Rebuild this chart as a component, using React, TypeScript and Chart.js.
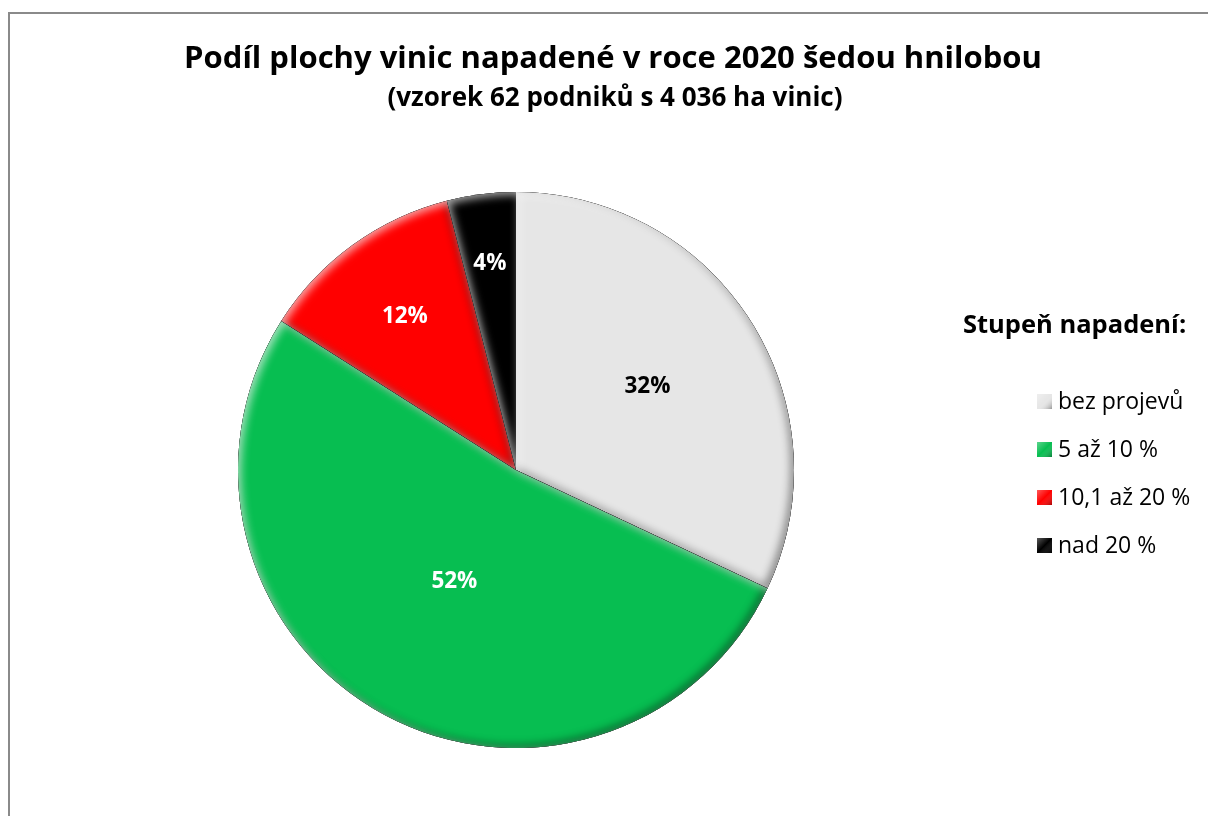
import React, { useEffect, useRef } from "react";
import { Chart, registerables } from "chart.js";

Chart.register(...registerables);

const TITLE = "Podíl plochy vinic napadené v roce 2020 šedou hnilobou";
const SUBTITLE = "(vzorek 62 podniků s 4 036 ha vinic)";
const LEGEND_TITLE = "Stupeň napadení:";
const categories = ["bez projevů", "5 až 10 %", "10,1 až 20 %", "nad 20 %"];
const shares = [32, 52, 12, 4];
const sliceColors = ["#E6E6E6", "#07BE51", "#FF0000", "#000000"];
const labelColors = ["#000000", "#FFFFFF", "#FFFFFF", "#FFFFFF"];
const labelRadius = [0.56, 0.46, 0.68, 0.75];

const FONT = "'Open Sans', 'Noto Sans', sans-serif";

const bevelPlugin = {
  id: "bevel",
  afterDatasetsDraw(chart: any) {
    const ctx: CanvasRenderingContext2D = chart.ctx;
    const meta = chart.getDatasetMeta(0);
    meta.data.forEach((arc: any) => {
      const { x, y, startAngle, endAngle, outerRadius } = arc.getProps(
        ["x", "y", "startAngle", "endAngle", "outerRadius"],
        true
      );
      const slicePath = () => {
        ctx.moveTo(x, y);
        ctx.arc(x, y, outerRadius, startAngle, endAngle);
        ctx.closePath();
      };
      const inner = (color: string, ox: number, oy: number, blur: number) => {
        ctx.save();
        ctx.beginPath();
        slicePath();
        ctx.clip();
        ctx.beginPath();
        ctx.rect(x - outerRadius * 3, y - outerRadius * 3, outerRadius * 6, outerRadius * 6);
        slicePath();
        ctx.shadowColor = color;
        ctx.shadowBlur = blur;
        ctx.shadowOffsetX = ox;
        ctx.shadowOffsetY = oy;
        ctx.fillStyle = "#000";
        ctx.fill("evenodd");
        ctx.restore();
      };
      inner("rgba(0,0,0,0.45)", -3, -3, 9);
      inner("rgba(255,255,255,0.65)", 3, 3, 9);
    });
  },
};

const labelsPlugin = {
  id: "sliceLabels",
  afterDatasetsDraw(chart: any) {
    const ctx: CanvasRenderingContext2D = chart.ctx;
    const meta = chart.getDatasetMeta(0);
    const values = chart.data.datasets[0].data as number[];
    const total = values.reduce((a, b) => a + b, 0);
    ctx.save();
    ctx.font = `bold 22.5px ${FONT}`;
    ctx.textAlign = "center";
    ctx.textBaseline = "middle";
    meta.data.forEach((arc: any, i: number) => {
      const { x, y, startAngle, endAngle, outerRadius } = arc.getProps(
        ["x", "y", "startAngle", "endAngle", "outerRadius"],
        true
      );
      const mid = (startAngle + endAngle) / 2;
      const r = outerRadius * labelRadius[i];
      ctx.fillStyle = labelColors[i];
      ctx.fillText(`${Math.round((values[i] / total) * 100)}%`, x + Math.cos(mid) * r, y + Math.sin(mid) * r);
    });
    ctx.restore();
  },
};

const textPlugin = {
  id: "textBlocks",
  afterDraw(chart: any) {
    const ctx: CanvasRenderingContext2D = chart.ctx;
    ctx.save();
    ctx.fillStyle = "#000";
    ctx.textAlign = "center";
    ctx.textBaseline = "alphabetic";
    ctx.font = `bold 31px ${FONT}`;
    ctx.fillText(TITLE, 613, 68);
    ctx.font = `bold 26px ${FONT}`;
    ctx.fillText(SUBTITLE, 615, 106);

    ctx.textAlign = "left";
    ctx.textBaseline = "middle";
    ctx.font = `bold 25.5px ${FONT}`;
    ctx.fillText(LEGEND_TITLE, 963, 326);

    const labels = chart.data.labels as string[];
    const colors = chart.data.datasets[0].backgroundColor as string[];
    ctx.font = `23px ${FONT}`;
    labels.forEach((lab, i) => {
      const cy = 401 + i * 48;
      const bx = 1037;
      const by = cy - 7;
      ctx.fillStyle = colors[i];
      ctx.fillRect(bx, by, 15, 15);
      const g = ctx.createLinearGradient(bx, by, bx + 15, by + 15);
      g.addColorStop(0, "rgba(255,255,255,0.35)");
      g.addColorStop(0.5, "rgba(255,255,255,0)");
      g.addColorStop(1, "rgba(0,0,0,0.35)");
      ctx.fillStyle = g;
      ctx.fillRect(bx, by, 15, 15);
      ctx.fillStyle = "#000";
      ctx.fillText(lab, 1058, cy + 1);
    });
    ctx.restore();
  },
};

export default function App() {
  const ref = useRef<HTMLCanvasElement | null>(null);

  useEffect(() => {
    if (!ref.current) return;
    const chart = new Chart(ref.current, {
      type: "pie",
      data: {
        labels: categories,
        datasets: [
          {
            data: shares,
            backgroundColor: sliceColors,
            borderWidth: 0,
          },
        ],
      },
      options: {
        responsive: false,
        animation: false,
        events: [],
        layout: { padding: { left: 238, right: 414, top: 192, bottom: 68 } },
        plugins: {
          legend: { display: false },
          tooltip: { enabled: false },
          title: { display: false },
        },
      },
      plugins: [bevelPlugin, labelsPlugin, textPlugin],
    });
    return () => chart.destroy();
  }, []);

  return (
    <>
      <div
        style={{
          position: "fixed",
          left: 8,
          top: 12,
          width: 1400,
          height: 1000,
          borderLeft: "2px solid #8a8a8a",
          borderTop: "2px solid #8a8a8a",
          boxSizing: "border-box",
        }}
      />
      <canvas
        ref={ref}
        width={1208}
        height={816}
        style={{ position: "fixed", left: 0, top: 0, width: 1208, height: 816 }}
      />
    </>
  );
}
